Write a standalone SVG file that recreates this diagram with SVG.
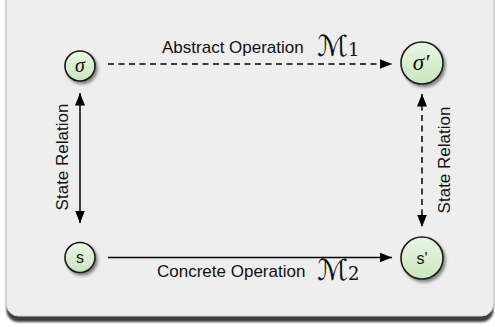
<svg xmlns="http://www.w3.org/2000/svg" width="495" height="327" viewBox="0 0 495 327">
  <defs>
    <linearGradient id="nodeFill" x1="0" y1="0" x2="0" y2="1">
      <stop offset="0" stop-color="#eaf6e4"/>
      <stop offset="1" stop-color="#c9e6bf"/>
    </linearGradient>
    <filter id="nodeShadow" x="-40%" y="-40%" width="190%" height="190%">
      <feDropShadow dx="2" dy="2.5" stdDeviation="1.6" flood-color="#000" flood-opacity="0.45"/>
    </filter>
    <filter id="panelShadow" x="-5%" y="-5%" width="110%" height="110%">
      <feGaussianBlur stdDeviation="0.8"/>
    </filter>
    <marker id="arrow" markerUnits="userSpaceOnUse" markerWidth="13" markerHeight="11" viewBox="0 0 13 11" refX="12.5" refY="5.5" orient="auto-start-reverse">
      <path d="M0,0.5 L12.5,5.5 L0,10.5 z" fill="#000"/>
    </marker>
  </defs>
  <style>
    .node circle { fill: url(#nodeFill); stroke: #1a1a1a; stroke-width: 1.6; filter: url(#nodeShadow); }
    .edge { stroke: #000; stroke-width: 1.5; fill: none; }
    .dashed { stroke-dasharray: 6 4.5; }
    .label { font-family: "Liberation Sans", Arial, sans-serif; font-size: 17px; fill: #111; }
    .math { font-family: "DejaVu Serif", "DejaVu Sans", serif; fill: #111; }
    .greek { font-family: "Liberation Serif", "DejaVu Serif", serif; font-style: italic; fill: #111; }
    .s { font-family: "Liberation Sans", Arial, sans-serif; font-size: 16px; fill: #111; }
  </style>

  <rect x="0" y="0" width="495" height="327" fill="#ffffff"/>
  <g id="panel">
    <rect x="6.5" y="-12" width="487" height="334" rx="12" fill="#3c3c3c" filter="url(#panelShadow)"/>
    <rect x="6.5" y="-12" width="487" height="328" rx="12" fill="#eeeeee" stroke="#d2d2d2" stroke-width="1"/>
  </g>

  <g id="connectors">
    <line class="edge dashed" x1="108" y1="64" x2="392" y2="64" marker-end="url(#arrow)"/>
    <line class="edge" x1="108" y1="257.5" x2="392" y2="257.5" marker-end="url(#arrow)"/>
    <line class="edge" x1="80" y1="93" x2="80" y2="223" marker-start="url(#arrow)" marker-end="url(#arrow)"/>
    <line class="edge dashed" x1="422" y1="94" x2="422" y2="227" marker-start="url(#arrow)" marker-end="url(#arrow)"/>
  </g>

  <g id="labels">
    <text class="label" x="162" y="53">Abstract Operation</text>
    <text class="math" x="317" y="56" font-size="29">ℳ<tspan font-size="18" dy="0">1</tspan></text>
    <text class="label" x="157" y="277">Concrete Operation</text>
    <text class="math" x="317" y="280" font-size="29">ℳ<tspan font-size="18" dy="0">2</tspan></text>
    <text class="label" text-anchor="middle" transform="translate(67.5,157) rotate(-90)">State Relation</text>
    <text class="label" text-anchor="middle" transform="translate(450,160) rotate(-90)">State Relation</text>
  </g>

  <g id="node-sigma" class="node">
    <circle cx="80" cy="66" r="15"/>
    <text class="greek" x="80" y="72" font-size="20" text-anchor="middle">σ</text>
  </g>
  <g id="node-sigma-prime" class="node">
    <circle cx="422" cy="63" r="21"/>
    <text class="greek" x="421" y="70" font-size="23" text-anchor="middle">σ′</text>
  </g>
  <g id="node-s" class="node">
    <circle cx="80" cy="257.5" r="15"/>
    <text class="s" x="80" y="263" text-anchor="middle">s</text>
  </g>
  <g id="node-s-prime" class="node">
    <circle cx="422" cy="258" r="21"/>
    <text class="s" x="422" y="264" text-anchor="middle">s'</text>
  </g>
</svg>
